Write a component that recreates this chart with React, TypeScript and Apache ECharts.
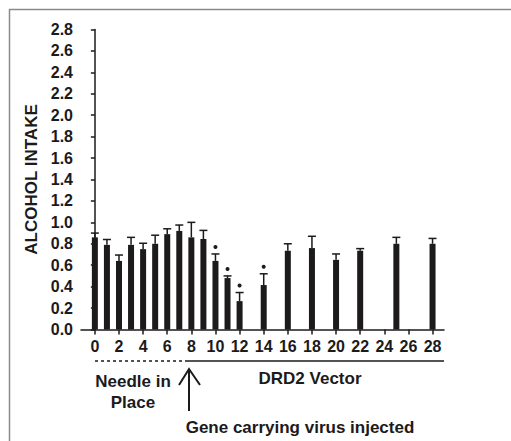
import React, { useEffect, useRef } from "react";
import * as echarts from "echarts";

const days = [0, 1, 2, 3, 4, 5, 6, 7, 8, 9, 10, 11, 12, 14, 16, 18, 20, 22, 25, 28];
const means = [0.86, 0.79, 0.64, 0.79, 0.75, 0.8, 0.89, 0.92, 0.86, 0.845, 0.64, 0.48, 0.265, 0.415, 0.735, 0.76, 0.65, 0.735, 0.8, 0.8];
const errs = [0.04, 0.05, 0.055, 0.07, 0.055, 0.08, 0.05, 0.055, 0.14, 0.08, 0.065, 0.02, 0.08, 0.105, 0.065, 0.11, 0.055, 0.02, 0.06, 0.05];
const sig = [0, 0, 0, 0, 0, 0, 0, 0, 0, 0, 1, 1, 1, 1, 0, 0, 0, 0, 0, 0];
const xTicks = [0, 2, 4, 6, 8, 10, 12, 14, 16, 18, 20, 22, 24, 26, 28];

const INK = "#1c1a1a";
const FONT = "'Liberation Sans', Arial, sans-serif";

export default function App() {
  const ref = useRef<HTMLDivElement>(null);
  useEffect(() => {
    if (!ref.current) return;
    const chart = echarts.init(ref.current, null, { renderer: "svg" });
    const barData = days.map((d, i) => [d, means[i]]);
    const errData = days.map((d, i) => [d, means[i], means[i] + errs[i], sig[i]]);
    chart.setOption({
      animation: false,
      backgroundColor: "#ffffff",
      grid: { left: 81, right: 67, top: 29.5, bottom: 111.5, containLabel: false },
      xAxis: {
        type: "value",
        min: -1.15,
        max: 28.95,
        splitLine: { show: false },
        axisLine: { lineStyle: { color: INK, width: 1.5 } },
        axisTick: { customValues: xTicks, length: 5, lineStyle: { color: INK, width: 1.5 } },
        axisLabel: {
          customValues: xTicks,
          margin: 9,
          color: INK,
          fontSize: 16,
          fontWeight: "bold",
          fontFamily: FONT,
        },
      },
      yAxis: {
        type: "value",
        min: 0,
        max: 2.8,
        interval: 0.2,
        name: "ALCOHOL INTAKE",
        nameLocation: "middle",
        nameGap: 40,
        nameTextStyle: { color: INK, fontSize: 17, fontWeight: "bold", fontFamily: FONT },
        splitLine: { show: false },
        axisLine: { show: true, lineStyle: { color: INK, width: 1.5 } },
        axisTick: { show: true, length: 4, lineStyle: { color: INK, width: 1.5 } },
        axisLabel: {
          margin: 8,
          color: INK,
          fontSize: 16,
          fontWeight: "bold",
          fontFamily: FONT,
          formatter: (v: number) => v.toFixed(1),
        },
      },
      series: [
        {
          type: "bar",
          data: barData,
          barWidth: 6,
          itemStyle: { color: INK },
        },
        {
          type: "custom",
          data: errData,
          z: 5,
          renderItem: (params: any, api: any) => {
            const x = api.value(0);
            const lo = api.coord([x, api.value(1)]);
            const hi = api.coord([x, api.value(2)]);
            const children: any[] = [
              { type: "line", shape: { x1: lo[0], y1: lo[1], x2: hi[0], y2: hi[1] }, style: { stroke: INK, lineWidth: 1.5 } },
              { type: "line", shape: { x1: hi[0] - 4, y1: hi[1], x2: hi[0] + 4, y2: hi[1] }, style: { stroke: INK, lineWidth: 1.5 } },
            ];
            if (api.value(3)) {
              children.push({ type: "circle", shape: { cx: hi[0], cy: hi[1] - 7, r: 2 }, style: { fill: INK } });
            }
            return { type: "group", children };
          },
        },
      ],
      graphic: [
        { type: "rect", shape: { x: 9.5, y: 9.5, width: 700, height: 700 }, style: { fill: "none", stroke: "#8a8a8a", lineWidth: 1.5 }, silent: true },
        { type: "line", shape: { x1: 95, y1: 361, x2: 185, y2: 361 }, style: { stroke: INK, lineWidth: 1.5, lineDash: [3, 3] } },
        { type: "line", shape: { x1: 185, y1: 361, x2: 444, y2: 361 }, style: { stroke: INK, lineWidth: 1.5 } },
        { type: "line", shape: { x1: 189, y1: 369, x2: 189, y2: 411 }, style: { stroke: INK, lineWidth: 2 } },
        { type: "polyline", shape: { points: [[179, 385], [189, 369], [200, 385]] }, style: { stroke: INK, lineWidth: 2, fill: "none" } },
        { type: "text", x: 133, y: 381, style: { text: "Needle in", font: `bold 17px ${FONT}`, fill: INK, align: "center", verticalAlign: "middle" } },
        { type: "text", x: 133, y: 402, style: { text: "Place", font: `bold 17px ${FONT}`, fill: INK, align: "center", verticalAlign: "middle" } },
        { type: "text", x: 310, y: 378, style: { text: "DRD2 Vector", font: `bold 17px ${FONT}`, fill: INK, align: "center", verticalAlign: "middle" } },
        { type: "text", x: 300, y: 427, style: { text: "Gene carrying virus injected", font: `bold 17px ${FONT}`, fill: INK, align: "center", verticalAlign: "middle" } },
      ],
    });
    return () => chart.dispose();
  }, []);
  return <div ref={ref} style={{ position: "absolute", left: 0, top: 0, width: 511, height: 441 }} />;
}
